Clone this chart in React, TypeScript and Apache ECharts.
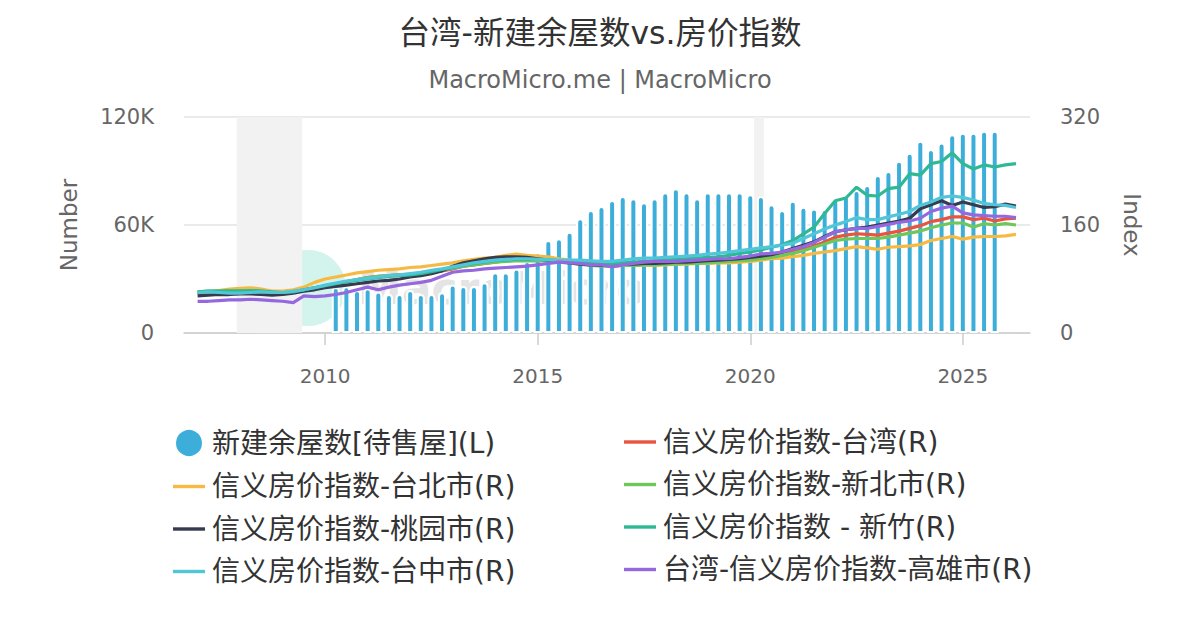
import React, { useEffect, useRef } from "react";
import * as echarts from "echarts";

const FONT = "'DejaVu Sans', 'Noto Sans CJK SC', sans-serif";

const titleText = "台湾-新建余屋数vs.房价指数";
const subtitleText = "MacroMicro.me | MacroMicro";

const xTickYears = [2010, 2015, 2020, 2025];
const leftTicks = [0, 60000, 120000];
const rightTicks = [0, 160, 320];

// quarterly, first bar at 2010 Q2
const barStart = 2010.25;
const inventory = [
  25500, 26000, 23900, 24800, 23000, 21700, 21700, 23900, 21700, 21700, 22600,
  27000, 26100, 26100, 28200, 33700, 33700, 35900, 40000, 44800, 51700, 52600,
  56300, 63700, 68300, 70600, 73900, 76100, 74800, 72600, 74800, 78200, 80400,
  78200, 74800, 78200, 78200, 78200, 78200, 77100, 76100, 71500, 68300, 73500,
  70200, 69100, 68900, 74400, 76700, 79400, 82200, 87800, 90000, 95700, 100200,
  106800, 102200, 105900, 110400, 111300, 111300, 112400, 112400,
];

// quarterly, first point at 2007 Q1
const lineStart = 2007.0;
const idxTaiwan = [
  59, 60, 61, 62, 63, 63, 62, 59, 58, 60, 64, 67, 70, 73, 76, 79, 82, 84, 85, 86,
  87, 88, 90, 92, 95, 99, 101, 103, 105, 107, 108, 108, 108, 107, 106, 105, 103,
  101, 100, 100, 101, 101, 102, 102, 103, 104, 104, 105, 106, 107, 108, 109, 111,
  113, 115, 117, 120, 124, 129, 135, 142, 145, 147, 146, 145, 148, 151, 155, 159,
  165, 168, 172, 172, 168, 170, 166, 169, 170,
];
const idxTaipei = [
  60, 61, 63, 65, 66, 67, 65, 62, 62, 64, 68, 75, 80, 83, 86, 89, 91, 93, 94, 95,
  97, 98, 100, 102, 104, 107, 109, 111, 112, 115, 117, 115, 114, 113, 110, 108,
  105, 102, 100, 99, 100, 100, 101, 100, 101, 102, 102, 103, 103, 104, 104, 105,
  106, 108, 110, 111, 113, 115, 118, 120, 122, 125, 128, 126, 124, 127, 128, 129,
  131, 137, 140, 143, 139, 142, 143, 143, 144, 146,
];
const idxNewTaipei = [
  61, 62, 62, 63, 63, 63, 62, 60, 59, 61, 64, 67, 70, 73, 76, 79, 82, 84, 85, 86,
  87, 89, 91, 93, 96, 99, 101, 103, 105, 106, 107, 107, 107, 106, 105, 104, 102,
  100, 99, 99, 100, 100, 101, 101, 102, 102, 103, 103, 104, 105, 106, 107, 108,
  110, 112, 115, 118, 122, 127, 132, 137, 139, 140, 140, 140, 142, 145, 148, 151,
  156, 160, 163, 163, 157, 162, 160, 162, 160,
];
const idxTaoyuan = [
  55, 56, 57, 57, 58, 58, 57, 56, 57, 59, 62, 64, 67, 69, 71, 73, 75, 77, 78, 80,
  83, 85, 88, 92, 99, 104, 107, 110, 112, 113, 113, 112, 110, 108, 106, 104, 102,
  101, 100, 101, 102, 102, 103, 103, 104, 105, 105, 106, 107, 108, 109, 110, 112,
  114, 116, 120, 125, 130, 135, 143, 150, 153, 155, 157, 160, 163, 166, 170, 184,
  190, 196, 189, 194, 190, 186, 187, 191, 188,
];
const idxHsinchu = [
  61, 62, 62, 62, 62, 63, 62, 61, 60, 61, 64, 67, 70, 73, 76, 78, 80, 82, 84, 85,
  86, 88, 91, 94, 97, 100, 103, 105, 107, 108, 109, 109, 109, 108, 107, 106, 105,
  104, 103, 103, 104, 105, 106, 107, 108, 109, 110, 111, 112, 113, 115, 118, 120,
  123, 127, 131, 137, 147, 157, 177, 196, 200, 216, 204, 203, 214, 216, 236, 234,
  251, 254, 267, 251, 243, 249, 246, 249, 251,
];
const idxTaichung = [
  60, 61, 60, 59, 59, 60, 61, 60, 60, 62, 64, 67, 71, 74, 77, 79, 81, 83, 85, 86,
  88, 90, 93, 95, 98, 101, 104, 106, 108, 109, 110, 110, 109, 109, 108, 108, 108,
  107, 106, 106, 108, 110, 111, 111, 112, 113, 114, 115, 117, 118, 120, 122, 124,
  126, 128, 130, 133, 140, 147, 154, 160, 165, 171, 168, 168, 172, 176, 180, 189,
  194, 201, 203, 201, 197, 192, 190, 189, 186,
];
const idxKaohsiung = [
  47, 47, 48, 49, 49, 50, 49, 48, 47, 45, 55, 54, 55, 57, 60, 64, 68, 64, 68, 71,
  73, 75, 78, 84, 90, 92, 93, 95, 96, 97, 98, 99, 101, 103, 105, 104, 103, 101,
  101, 98, 101, 103, 105, 106, 106, 106, 107, 108, 109, 110, 110, 112, 114, 117,
  118, 120, 124, 128, 134, 142, 150, 153, 155, 155, 158, 161, 164, 166, 170, 180,
  185, 188, 178, 175, 174, 173, 173, 171,
];

const recessions = [
  [2007.92, 2009.46],
  [2020.09, 2020.32],
];

const barName = "新建余屋数[待售屋](L)";
const lineSeries = [
  { name: "信义房价指数-台湾(R)", data: idxTaiwan, color: "#e8543f" },
  { name: "信义房价指数-台北市(R)", data: idxTaipei, color: "#f6ba42" },
  { name: "信义房价指数-新北市(R)", data: idxNewTaipei, color: "#6fc75c" },
  { name: "信义房价指数-桃园市(R)", data: idxTaoyuan, color: "#363b4f" },
  { name: "信义房价指数 - 新竹(R)", data: idxHsinchu, color: "#2fb894" },
  { name: "信义房价指数-台中市(R)", data: idxTaichung, color: "#52c6d9" },
  { name: "台湾-信义房价指数-高雄市(R)", data: idxKaohsiung, color: "#9568e0" },
];
const barColor = "#3daed9";

const LINE_ICON = "path://M0,0L32,0L32,3.4L0,3.4Z";

function toPairs(start: number, vals: number[]) {
  return vals.map((v, i) => [start + i * 0.25, v]);
}

export default function App() {
  const ref = useRef<HTMLDivElement>(null);
  useEffect(() => {
    if (!ref.current) return;
    const chart = echarts.init(ref.current, null, { renderer: "svg" });
    const legendText = { fontSize: 28, color: "#333", fontFamily: FONT, lineHeight: 28, padding: [0, 0, 0, 2] };
    const legendCommon = {
      orient: "vertical",
      top: 423,
      itemWidth: 32,
      itemHeight: 28,
      itemGap: 14.5,
      textStyle: legendText,
      selectedMode: false,
    };
    const lineItem = (n: string) => ({ name: n, icon: LINE_ICON });
    const option: any = {
      animation: false,
      backgroundColor: "#fff",
      textStyle: { fontFamily: FONT },
      title: [
        {
          text: titleText,
          left: "center",
          top: 9,
          textStyle: { fontSize: 31.5, fontWeight: "normal", color: "#333", fontFamily: FONT, lineHeight: 38 },
        },
        {
          text: subtitleText,
          left: "center",
          top: 61,
          textStyle: { fontSize: 24, fontWeight: "normal", color: "#666", fontFamily: FONT, lineHeight: 28 },
        },
      ],
      legend: [
        {
          ...legendCommon,
          left: 168,
          data: [
            { name: barName, icon: "circle" },
            lineItem(lineSeries[1].name),
            lineItem(lineSeries[3].name),
            lineItem(lineSeries[5].name),
          ],
        },
        {
          ...legendCommon,
          left: 619,
          data: [
            lineItem(lineSeries[0].name),
            lineItem(lineSeries[2].name),
            lineItem(lineSeries[4].name),
            lineItem(lineSeries[6].name),
          ],
        },
      ],
      grid: { left: 184, right: 170, top: 117, bottom: 297, containLabel: false },
      graphic: [
        {
          type: "circle",
          z: 1,
          silent: true,
          shape: { cx: 308, cy: 288, r: 38 },
          style: { fill: "#d3f3ed" },
        },
        {
          type: "text",
          z: 1,
          silent: true,
          x: 358,
          y: 288,
          style: {
            text: "MacroMicro",
            fontSize: 44,
            fontWeight: "bold",
            fontFamily: FONT,
            fill: "#e4e4e4",
            verticalAlign: "middle",
          },
        },
      ],
      xAxis: {
        type: "value",
        min: 2006.68,
        max: 2026.58,
        splitLine: { show: false },
        axisLine: { show: true, lineStyle: { color: "#cccccc", width: 1.5 } },
        axisTick: { show: true, customValues: xTickYears, length: 12, lineStyle: { color: "#cccccc", width: 1.5 } },
        axisLabel: {
          customValues: xTickYears,
          formatter: (v: number) => String(Math.round(v)),
          color: "#666",
          fontSize: 20,
          margin: 33,
          fontFamily: FONT,
        },
      },
      yAxis: [
        {
          type: "value",
          min: leftTicks[0],
          max: leftTicks[2],
          interval: leftTicks[1],
          name: "Number",
          nameLocation: "middle",
          nameGap: 104,
          nameTextStyle: { color: "#666", fontSize: 23, fontFamily: FONT },
          axisLine: { show: false },
          axisTick: { show: false },
          splitLine: { lineStyle: { color: "#e3e3e3", width: 1.5 } },
          axisLabel: {
            color: "#666",
            fontSize: 21,
            margin: 30,
            fontFamily: FONT,
            formatter: (v: number) => (v === 0 ? "0" : v / 1000 + "K"),
          },
        },
        {
          type: "value",
          min: rightTicks[0],
          max: rightTicks[2],
          interval: rightTicks[1],
          name: "Index",
          nameLocation: "middle",
          nameRotate: -90,
          nameGap: 90,
          nameTextStyle: { color: "#666", fontSize: 23, fontFamily: FONT },
          axisLine: { show: false },
          axisTick: { show: false },
          splitLine: { show: false },
          axisLabel: { color: "#666", fontSize: 21, margin: 30, fontFamily: FONT },
        },
      ],
      series: [
        {
          name: "recession",
          type: "line",
          data: [],
          z: 0,
          silent: true,
          markArea: {
            silent: true,
            itemStyle: { color: "#f2f2f2" },
            data: recessions.map((r) => [{ xAxis: r[0] }, { xAxis: r[1] }]),
          },
        },
        {
          name: barName,
          type: "bar",
          yAxisIndex: 0,
          z: 2,
          barWidth: 8,
          data: toPairs(barStart, inventory),
          itemStyle: { color: barColor, borderColor: "#ffffff", borderWidth: 2, borderRadius: [3, 3, 0, 0] },
        },
        ...lineSeries.map((s) => ({
          name: s.name,
          type: "line",
          yAxisIndex: 1,
          z: 3,
          symbol: "none",
          data: toPairs(lineStart, s.data),
          lineStyle: { color: s.color, width: 3.2 },
          itemStyle: { color: s.color },
        })),
      ],
    };
    chart.setOption(option);
    return () => chart.dispose();
  }, []);
  return (
    <div
      ref={ref}
      style={{ position: "absolute", left: 0, top: 0, width: 1200, height: 630 }}
    />
  );
}
